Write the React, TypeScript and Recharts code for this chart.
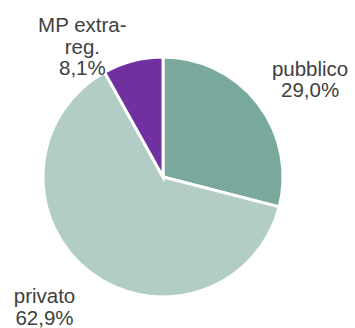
import { PieChart, Pie, Cell } from "recharts";

// Ripartizione per tipo
const CATEGORIE = ["pubblico", "privato", "MP extra-reg."];
const RIGHE_ETICHETTA = [["pubblico"], ["privato"], ["MP extra-", "reg."]];
const VALORI = [29.0, 62.9, 8.1];
const CORI = ["#78a99c", "#b2cdc5", "#7030a0"];

const dati = CATEGORIE.map((name, i) => ({ name, value: VALORI[i] }));

const RAD = Math.PI / 180;
// distanza dal bordo e piccola correzione d'angolo per ogni etichetta
const DISTANZE = [57, 55, 34];
const CORREZIONI = [-4.0, -5.0, 17];

const formatta = (v: number) => v.toFixed(1).replace(".", ",") + "%";

function Etichetta(props: any) {
  const { cx, cy, midAngle, outerRadius, index, value } = props;
  const r = outerRadius + DISTANZE[index];
  const a = (midAngle + CORREZIONI[index]) * RAD;
  const x = cx + r * Math.cos(-a);
  const y = cy + r * Math.sin(-a);
  const righe = [...RIGHE_ETICHETTA[index], formatta(value)];
  const altezza = 21.5;
  const y0 = y - ((righe.length - 1) * altezza) / 2;
  return (
    <text
      x={x}
      y={y0}
      textAnchor="middle"
      dominantBaseline="central"
      fill="#404040"
      fontSize={20.5}
      fontFamily="'Liberation Sans', Arial, sans-serif"
    >
      {righe.map((t, i) => (
        <tspan key={i} x={x} y={y0 + i * altezza}>
          {t}
        </tspan>
      ))}
    </text>
  );
}

export default function App() {
  return (
    <div style={{ position: "absolute", left: 0, top: 0, background: "#fff" }}>
      <PieChart
        width={355}
        height={328}
        margin={{ top: 0, right: 0, bottom: 0, left: 0 }}
      >
        <Pie
          data={dati}
          dataKey="value"
          cx={163}
          cy={177}
          outerRadius={120}
          startAngle={90}
          endAngle={-270}
          stroke="#ffffff"
          strokeWidth={3}
          label={Etichetta}
          labelLine={false}
          isAnimationActive={false}
        >
          {dati.map((_, i) => (
            <Cell key={i} fill={CORI[i]} />
          ))}
        </Pie>
      </PieChart>
    </div>
  );
}
